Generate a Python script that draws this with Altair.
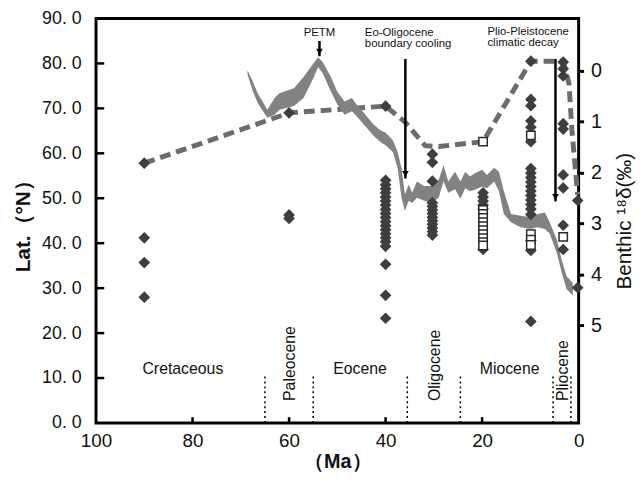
import altair as alt
import pandas as pd

# ---------------- data ----------------
# Benthic d18O band (Ma, upper edge, lower edge) in per-mil, right axis
band_ma = [68.6, 67.5, 66.5, 64.5, 63, 62, 59, 57, 55, 54,
           53, 51.5, 50, 48.5, 47, 46, 44.5, 42.5, 41, 40,
           38.5, 37.5, 36.7, 36, 35.2, 34.5, 33.5, 32, 30.5, 29,
           28, 27, 25.6, 24.5, 23.5, 22.5, 21.5, 20, 19, 17.5,
           16.5, 15.5, 14, 12, 10, 8.5, 7, 6, 4.5, 3.5,
           2.5, 1.2]
band_top = [0.00, 0.22, 0.45, 0.77, 0.54, 0.45, 0.35, 0.13, -0.13, -0.26,
            -0.16, 0.10, 0.42, 0.61, 0.54, 0.67, 0.83, 1.06, 1.18, 1.22,
            1.37, 1.60, 1.92, 2.43, 2.24, 2.40, 2.18, 2.27, 2.27, 2.15,
            1.86, 2.18, 1.99, 2.18, 1.99, 2.08, 2.02, 1.95, 2.05, 1.91,
            1.99, 2.37, 2.82, 2.85, 2.88, 2.82, 2.79, 2.98, 3.33, 3.72,
            4.04, 4.17]
band_bot = [0.08, 0.41, 0.64, 0.93, 0.87, 0.77, 0.70, 0.54, 0.16, -0.07,
            0.06, 0.38, 0.67, 0.87, 0.80, 0.90, 1.06, 1.28, 1.41, 1.47,
            1.60, 1.92, 2.50, 2.76, 2.56, 2.60, 2.50, 2.56, 2.60, 2.50,
            2.18, 2.40, 2.33, 2.52, 2.31, 2.37, 2.34, 2.28, 2.31, 2.18,
            2.37, 2.82, 2.98, 3.08, 3.11, 3.08, 3.11, 3.20, 3.59, 3.97,
            4.29, 4.42]

# Fossil occurrences (diamonds): age (Ma) and latitude
dia_ma = ([90] * 4 + [60] * 3 + [40] * 21 + [30.3] * 13 + [19.8] * 6
          + [9.9] * 20 + [3.2] * 9 + [0.2] * 2)
dia_lat = ([57.8, 41.2, 35.7, 28.0]
           + [69.0, 46.3, 45.5]
           + [70.5, 54.0, 53.0, 52.1, 51.2, 50.3, 49.4, 48.5, 47.5, 46.6, 45.7,
              44.8, 43.9, 43.0, 42.1, 41.2, 40.3, 39.3, 35.3, 28.4, 23.3]
           + [59.8, 58.0, 53.8, 49.0, 48.2, 47.4, 46.6, 45.8, 45.0, 44.2, 43.4,
              42.6, 41.8]
           + [51.2, 50.3, 49.4, 48.5, 47.6, 38.6]
           + [80.5, 72.0, 70.6, 67.2, 65.8, 62.6, 56.6, 55.6, 54.6, 53.6, 52.6,
              51.6, 50.6, 49.6, 48.6, 47.6, 46.4, 40.6, 38.4, 22.6]
           + [80.3, 78.8, 77.2, 66.6, 65.4, 55.2, 52.3, 44.0, 38.6]
           + [49.5, 30.1])

# Open squares
sq_ma = [19.8] * 11 + [9.9] * 4 + [3.2]
sq_lat = ([62.6, 47.4, 46.5, 45.6, 44.7, 43.8, 42.9, 42.0, 41.1, 40.2, 39.5]
          + [64.0, 42.0, 40.8, 39.6]
          + [41.4])

# Dashed envelope line (maximum latitude)
env_ma = [90, 60, 40, 36, 31.8, 29, 19.8, 9.9, 3.2, 2.0, 1.4, 0.7, 0.2]
env_lat = [57.8, 69.0, 70.5, 67.0, 61.7, 61.5, 62.6, 80.5, 80.5, 75.5, 65.3, 56.6, 50.8]

# Epoch boundaries and labels
bound_ma = [65, 55, 35.5, 24.5, 5.3, 1.6]
epoch_h_names = ["Cretaceous", "Eocene", "Miocene"]
epoch_h_ma = [82, 45.3, 14.3]
epoch_v_names = ["Paleocene", "Oligocene", "Pliocene"]
epoch_v_ma = [59.8, 29.7, 3.3]

# Event annotations
ev_text = ["PETM", "Eo-Oligocene", "boundary cooling", "Plio-Pleistocene", "climatic decay"]
ev_ma = [53.7, 44.3, 44.3, 18.9, 18.9]
ev_lat = [86.8, 86.8, 84.4, 87.0, 84.6]
ev_align = ["center", "left", "left", "left", "left"]
arrow_ma = [53.7, 35.9, 4.8]
arrow_from = [85.0, 81.0, 81.0]
arrow_to = [81.6, 54.4, 49.3]

x_ticks = [100, 80, 60, 40, 20, 0]
y_ticks = [0, 10, 20, 30, 40, 50, 60, 70, 80, 90]
d_ticks = [0, 1, 2, 3, 4, 5]

# ---------------- chart ----------------
FONT = "Liberation Sans"
W, H = 488, 409
xs = alt.Scale(domain=[0, 100], reverse=True, nice=False, zero=False)
ys = alt.Scale(domain=[0, 90], nice=False, zero=False)
ds = alt.Scale(domain=[-1.02, 6.92], reverse=True, nice=False, zero=False)

band_df = pd.DataFrame({"ma": band_ma, "top": band_top, "bot": band_bot})
dia_df = pd.DataFrame({"ma": dia_ma, "lat": dia_lat})
sq_df = pd.DataFrame({"ma": sq_ma, "lat": sq_lat})
env_df = pd.DataFrame({"ma": env_ma, "lat": env_lat})
bound_df = pd.DataFrame({"ma": bound_ma, "lo": [0] * len(bound_ma), "hi": [10.5] * len(bound_ma)})
eh_df = pd.DataFrame({"t": epoch_h_names, "ma": epoch_h_ma, "lat": [11.9] * 3})
ev_v_df = pd.DataFrame({"t": epoch_v_names, "ma": epoch_v_ma, "lat": [4.9] * 3})
ev_df = pd.DataFrame({"t": ev_text, "ma": ev_ma, "lat": ev_lat, "al": ev_align})
arr_df = pd.DataFrame({"ma": arrow_ma, "a": arrow_from, "b": arrow_to})
arr_df["head"] = arr_df["b"] + 1.0
xt_df = pd.DataFrame({"ma": x_ticks[1:-1], "lo": [0] * 4, "hi": [1.3] * 4})
yt_df = pd.DataFrame({"lat": y_ticks[1:-1], "ma": [100] * 8, "x1": [98.3] * 8})

x_axis = alt.Axis(values=x_ticks, labelFlush=False, ticks=False, domain=False, grid=False,
                  labelFontSize=19, labelPadding=9, title="（Ma）", titleFontSize=20,
                  titleFontWeight="bold", titlePadding=1)
NOX = alt.X("ma:Q", scale=xs, axis=x_axis)


def Y(field):
    return alt.Y(field, scale=ys, axis=None)


band = alt.Chart(band_df).mark_area(color="#828282", opacity=1).encode(
    x=NOX,
    y=alt.Y("top:Q", scale=ds, axis=alt.Axis(
        orient="right", values=d_ticks, grid=False, domain=False, tickSize=5, tickWidth=3,
        tickColor="black", labelFontSize=20, labelPadding=7, title="Benthic ¹⁸δ(‰)",
        titleFontSize=21, titleFontWeight="normal", titleAngle=270, titleBaseline="top",
        titlePadding=12)),
    y2="bot:Q",
)

env = alt.Chart(env_df).mark_line(color="#6c6c6c", strokeWidth=5, strokeDash=[11, 6]).encode(
    x=NOX,
    y=alt.Y("lat:Q", scale=ys, axis=alt.Axis(
        orient="left", values=y_ticks, grid=False, domain=False, ticks=False,
        labelExpr="replace(format(datum.value, '.1f'), '.', '. ')",
        labelFontSize=18, labelPadding=15, title="Lat.（°N）", titleFontSize=21,
        titleFontWeight="bold", titlePadding=8)),
)

dia = alt.Chart(dia_df).mark_point(shape="diamond", filled=True, size=140,
                                   color="#3e3e3e", opacity=1).encode(x=NOX, y=Y("lat:Q"))
sq = alt.Chart(sq_df).mark_square(size=72, fill="white", stroke="#2a2a2a",
                                  strokeWidth=1.5, opacity=1).encode(x=NOX, y=Y("lat:Q"))

bounds = alt.Chart(bound_df).mark_rule(color="black", strokeWidth=1.5, strokeDash=[2, 3]).encode(
    x=NOX, y=Y("lo:Q"), y2="hi:Q")
eh = alt.Chart(eh_df).mark_text(fontSize=16, font=FONT, color="#111", baseline="middle").encode(
    x=NOX, y=Y("lat:Q"), text="t:N")
ev_v = alt.Chart(ev_v_df).mark_text(fontSize=16, font=FONT, color="#111", angle=270,
                                    align="left", baseline="middle").encode(
    x=NOX, y=Y("lat:Q"), text="t:N")

ev_c = alt.Chart(ev_df[ev_df["al"] == "center"]).mark_text(
    fontSize=11.5, font=FONT, color="#111", align="center", baseline="middle").encode(
    x=NOX, y=Y("lat:Q"), text="t:N")
ev_l = alt.Chart(ev_df[ev_df["al"] == "left"]).mark_text(
    fontSize=11.5, font=FONT, color="#111", align="left", baseline="middle").encode(
    x=NOX, y=Y("lat:Q"), text="t:N")

arr_line = alt.Chart(arr_df).mark_rule(color="black", strokeWidth=2.5).encode(
    x=NOX, y=Y("a:Q"), y2="b:Q")
arr_head = alt.Chart(arr_df).mark_point(shape="triangle-down", filled=True, size=45,
                                        color="black", opacity=1).encode(
    x=NOX, y=Y("head:Q"))

xt = alt.Chart(xt_df).mark_rule(color="black", strokeWidth=2.5).encode(
    x=NOX, y=Y("lo:Q"), y2="hi:Q")
yt = alt.Chart(yt_df).mark_rule(color="black", strokeWidth=2.5).encode(
    x=NOX, x2="x1:Q", y=Y("lat:Q"))

chart = alt.layer(
    env, band, bounds, eh, ev_v, dia, sq, arr_line, arr_head, ev_c, ev_l, xt, yt
).resolve_scale(y="independent").properties(
    width=W, height=H,
    autosize=alt.AutoSizeParams(type="none"),
    padding={"left": 89, "top": 8, "right": 58, "bottom": 50},
    background="white",
).configure_view(stroke="black", strokeWidth=3).configure_axis(
    labelFont=FONT, titleFont=FONT, labelColor="#111", titleColor="#111"
)

chart.save("out.html", embed_options={"renderer": "svg", "actions": False})
